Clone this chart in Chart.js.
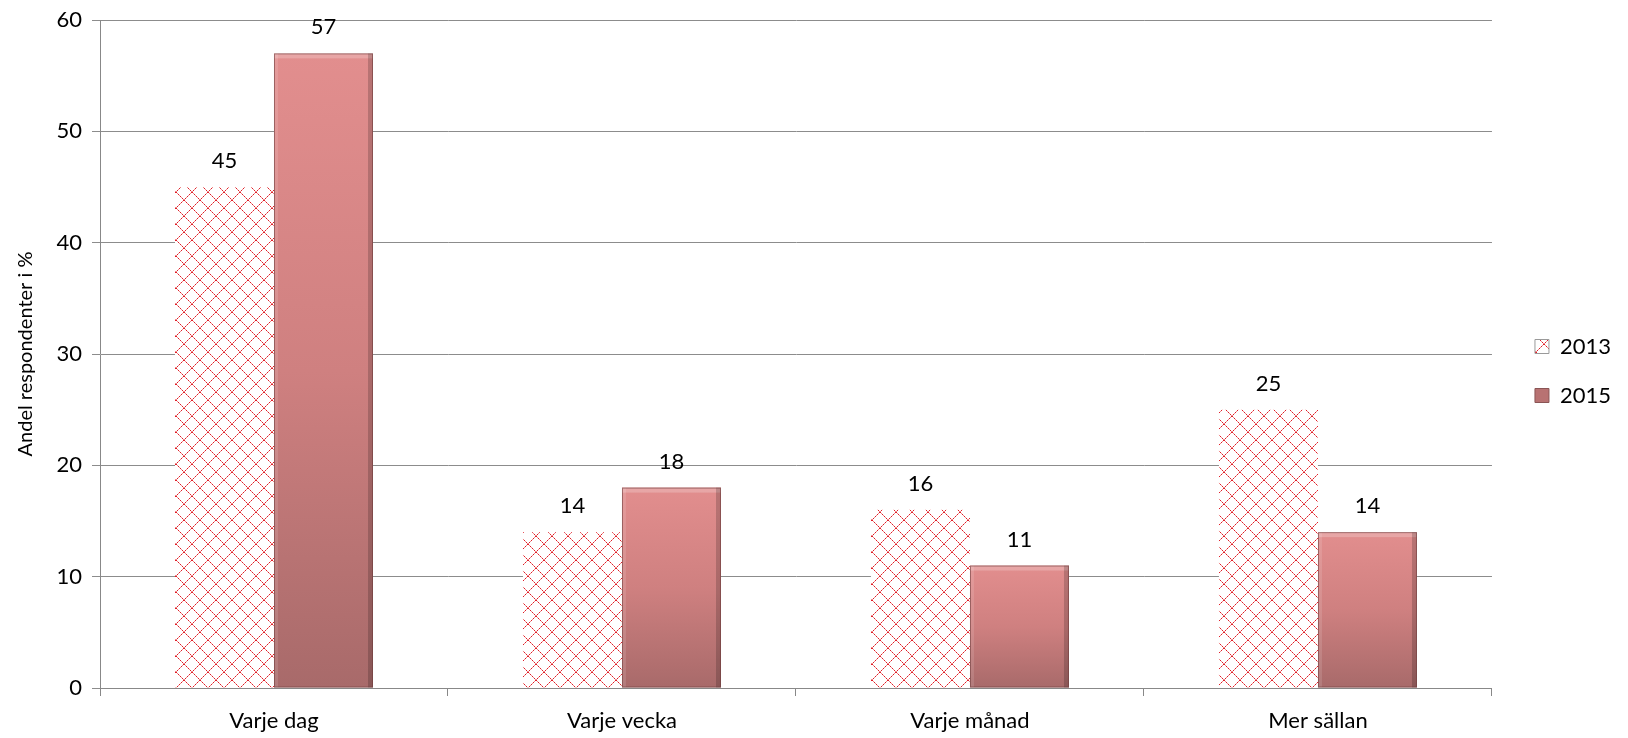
<!DOCTYPE html>
<html>
<head>
<meta charset="utf-8">
<script src="https://cdn.jsdelivr.net/npm/chart.js@4/dist/chart.umd.min.js"></script>
<style>
  html, body { margin: 0; padding: 0; background: #fff; }
  #wrap { width: 1628px; height: 738px; }
</style>
</head>
<body>
<div id="wrap"><canvas id="chart"></canvas></div>
<script>
const categories = ['Varje dag', 'Varje vecka', 'Varje månad', 'Mer sällan'];
const values2013 = [45, 14, 16, 25];
const values2015 = [57, 18, 11, 14];
const seriesLabels = ['2013', '2015'];

const FONT = 'Lato, "Open Sans", sans-serif';

function makeHatch() {
    const c = document.createElement('canvas');
    c.width = 16; c.height = 16;
    const g = c.getContext('2d');
    g.fillStyle = '#ffffff';
    g.fillRect(0, 0, 16, 16);
    // dotted diagonals forming the diamond lattice
    for (let i = 0; i < 16; i++) {
        g.fillStyle = i % 2 === 0 ? '#e01e28' : '#ef8888';
        g.fillRect(i, i, 1, 1);
        g.fillRect(15 - i, i, 1, 1);
    }
    return g.createPattern(c, 'repeat');
}

function barGradient(ctx) {
    const chart = ctx.chart;
    const y = chart.scales.y;
    if (!y || ctx.type !== 'data') return '#c27676';
    const top = y.getPixelForValue(ctx.raw);
    const base = y.getPixelForValue(0);
    if (!isFinite(top) || !isFinite(base) || top === base) return '#c27676';
    const g = chart.ctx.createLinearGradient(0, top, 0, base);
    g.addColorStop(0, '#e28e8e');
    g.addColorStop(0.5, '#cf8080');
    g.addColorStop(1, '#a86a6a');
    return g;
}

const bevel = {
    id: 'bevel',
    afterDatasetsDraw(chart) {
        const meta = chart.getDatasetMeta(1);
        const c = chart.ctx;
        meta.data.forEach(bar => {
            const l = bar.x - bar.width / 2, r = bar.x + bar.width / 2;
            const t = bar.y, b = bar.base;
            c.save();
            c.fillStyle = 'rgba(255,255,255,0.22)';
            c.fillRect(l, t, bar.width, 5);
            c.fillStyle = 'rgba(255,255,255,0.12)';
            c.fillRect(l, t, 4, b - t);
            c.fillStyle = 'rgba(0,0,0,0.18)';
            c.fillRect(r - 5, t, 5, b - t);
            c.strokeStyle = 'rgba(110,60,60,0.6)';
            c.lineWidth = 1;
            c.strokeRect(l + 0.5, t + 0.5, bar.width - 1, b - t - 1);
            c.restore();
        });
    }
};

const valueLabels = {
    id: 'valueLabels',
    afterDatasetsDraw(chart) {
        const c = chart.ctx;
        c.save();
        c.font = '22px ' + FONT;
        c.fillStyle = '#000';
        c.textAlign = 'center';
        c.textBaseline = 'middle';
        chart.data.datasets.forEach((ds, i) => {
            chart.getDatasetMeta(i).data.forEach((bar, j) => {
                c.fillText(ds.data[j], bar.x, bar.y - 26);
            });
        });
        c.restore();
    }
};

// nudge the legend to the spot used by the original
const legendShift = {
    id: 'legendShift',
    afterLayout(chart) {
        const lg = chart.legend;
        lg.left += 16; lg.right += 16;
        lg.top -= 8; lg.bottom -= 8;
    }
};

const hatch = makeHatch();

new Chart(document.getElementById('chart'), {
    type: 'bar',
    data: {
        labels: categories,
        datasets: [{
            label: seriesLabels[0],
            data: values2013,
            backgroundColor: hatch,
            borderWidth: 0
        }, {
            label: seriesLabels[1],
            data: values2015,
            backgroundColor: barGradient,
            borderWidth: 0
        }]
    },
    options: {
        responsive: true,
        maintainAspectRatio: false,
        animation: false,
        devicePixelRatio: 1,
        barPercentage: 1,
        categoryPercentage: 0.569,
        layout: { padding: { top: 20, right: 23, bottom: 0, left: 10 } },
        plugins: {
            legend: {
                position: 'right',
                labels: {
                    font: { family: FONT, size: 22 },
                    color: '#000',
                    boxWidth: 14,
                    boxHeight: 14,
                    padding: 27,
                    generateLabels(chart) {
                        const items = Chart.defaults.plugins.legend.labels.generateLabels(chart);
                        items[0].strokeStyle = '#9a9a9a';
                        items[0].lineWidth = 1;
                        items[1].fillStyle = '#b87272';
                        items[1].strokeStyle = '#8a5555';
                        items[1].lineWidth = 1;
                        return items;
                    }
                }
            },
            tooltip: { enabled: false }
        },
        scales: {
            x: {
                afterFit(scale) { scale.height = 50; },
                grid: { drawOnChartArea: false, drawTicks: true, tickLength: 8, color: '#888' },
                border: { color: '#888' },
                ticks: { font: { family: FONT, size: 22 }, color: '#000', padding: 12 }
            },
            y: {
                min: 0, max: 60,
                afterFit(scale) {
                    scale.width = 90;
                    scale.paddingTop = 0;
                    scale.paddingBottom = 0;
                },
                ticks: { stepSize: 10, font: { family: FONT, size: 22 }, color: '#000', padding: 10 },
                grid: { color: '#8c8c8c', tickLength: 8 },
                border: { color: '#888' },
                title: {
                    display: true,
                    text: 'Andel respondenter i %',
                    font: { family: FONT, size: 20 },
                    color: '#000'
                }
            }
        }
    },
    plugins: [bevel, valueLabels, legendShift]
});
</script>
</body>
</html>
